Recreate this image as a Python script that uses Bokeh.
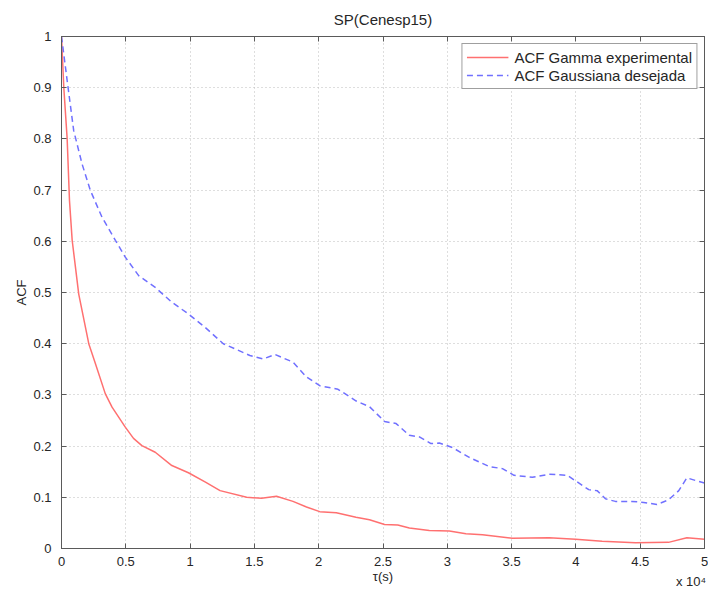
from bokeh.plotting import figure
from bokeh.models import (Range1d, FixedTicker, LinearAxis, Legend, LegendItem, Div,
                          CustomLabelingPolicy)
from bokeh.layouts import column
from bokeh.embed import file_html
from bokeh.resources import INLINE

# ---- data (x in units of 10^4 s) ----
gamma_x = [0, 0.018, 0.044, 0.062, 0.083, 0.134, 0.212, 0.264, 0.341, 0.393, 0.496, 0.56,
           0.625, 0.729, 0.858, 0.987, 1.116, 1.233, 1.44, 1.555, 1.672, 1.80, 1.905, 2.008,
           2.137, 2.29, 2.395, 2.512, 2.615, 2.705, 2.86, 3.016, 3.145, 3.274, 3.506, 3.791,
           3.998, 4.204, 4.463, 4.72, 4.863, 5.0]
gamma_y = [1.0, 0.90, 0.80, 0.68, 0.602, 0.497, 0.40, 0.361, 0.302, 0.276, 0.237, 0.215,
           0.201, 0.188, 0.162, 0.148, 0.130, 0.113, 0.100, 0.098, 0.102, 0.092, 0.081, 0.072,
           0.070, 0.061, 0.056, 0.047, 0.046, 0.040, 0.035, 0.034, 0.029, 0.027, 0.020, 0.021,
           0.018, 0.014, 0.011, 0.012, 0.021, 0.018]

gauss_x = [0, 0.044, 0.095, 0.16, 0.225, 0.315, 0.419, 0.496, 0.6, 0.729, 0.858, 0.987,
           1.116, 1.258, 1.465, 1.568, 1.659, 1.80, 1.905, 2.008, 2.15, 2.292, 2.395, 2.512,
           2.602, 2.705, 2.783, 2.873, 2.938, 3.041, 3.171, 3.326, 3.429, 3.519, 3.661, 3.791,
           3.933, 4.01, 4.10, 4.165, 4.23, 4.307, 4.436, 4.527, 4.63, 4.72, 4.80, 4.863,
           4.928, 5.0]
gauss_y = [1.0, 0.914, 0.816, 0.751, 0.699, 0.647, 0.602, 0.569, 0.533, 0.510, 0.481, 0.458,
           0.432, 0.400, 0.377, 0.370, 0.379, 0.364, 0.335, 0.318, 0.311, 0.288, 0.277, 0.248,
           0.244, 0.221, 0.218, 0.205, 0.206, 0.197, 0.178, 0.160, 0.156, 0.143, 0.139, 0.145,
           0.143, 0.130, 0.115, 0.113, 0.097, 0.092, 0.092, 0.090, 0.086, 0.095, 0.113, 0.138,
           0.133, 0.128]

x_ticks = [0, 0.5, 1, 1.5, 2, 2.5, 3, 3.5, 4, 4.5, 5]
x_tick_labels = ["0", "0.5", "1", "1.5", "2", "2.5", "3", "3.5", "4", "4.5", "5"]
y_ticks = [0, 0.1, 0.2, 0.3, 0.4, 0.5, 0.6, 0.7, 0.8, 0.9, 1]
y_tick_labels = ["0", "0.1", "0.2", "0.3", "0.4", "0.5", "0.6", "0.7", "0.8", "0.9", "1"]

title_text = "SP(Cenesp15)"
legend_labels = ["ACF Gamma experimental", "ACF Gaussiana desejada"]
x_label = "τ(s)"
y_label = "ACF"
x_multiplier = "x 10⁴"

FONT = "Liberation Sans"
TXT = "#262626"
AXC = "#5a5a5a"

p = figure(width=708, height=591, output_backend="svg", toolbar_location=None,
           x_range=Range1d(0, 5), y_range=Range1d(0, 1),
           min_border_left=61, min_border_right=2, min_border_top=36, min_border_bottom=43,
           background_fill_color="white", border_fill_color="white")

p.title.text = title_text
p.title.align = "center"
p.title.text_font = FONT
p.title.text_font_size = "15px"
p.title.text_font_style = "normal"
p.title.text_color = TXT
p.title.standoff = 9

p.outline_line_color = AXC
p.outline_line_width = 1

# grids
for g in (p.xgrid, p.ygrid):
    g.grid_line_color = "#bdbdbd"
    g.grid_line_dash = "1 3"
    g.grid_line_width = 1
p.xgrid.ticker = FixedTicker(ticks=x_ticks)
p.ygrid.ticker = FixedTicker(ticks=y_ticks)

# axes
xa = p.xaxis[0]
xa.ticker = FixedTicker(ticks=x_ticks)
xa.major_label_overrides = {t: l for t, l in zip(x_ticks, x_tick_labels)}
xa.axis_label = x_label
ya = p.yaxis[0]
ya.ticker = FixedTicker(ticks=y_ticks)
ya.major_label_overrides = {t: l for t, l in zip(y_ticks, y_tick_labels)}
ya.axis_label = y_label

for ax in (xa, ya):
    ax.axis_line_color = AXC
    ax.major_tick_line_color = AXC
    ax.major_tick_in = 5
    ax.major_tick_out = 0
    ax.minor_tick_line_color = None
    ax.major_label_text_font = FONT
    ax.major_label_text_font_size = "13px"
    ax.major_label_text_color = TXT
    ax.axis_label_text_font = FONT
    ax.axis_label_text_font_size = "13px"
    ax.axis_label_text_font_style = "normal"
    ax.axis_label_text_color = TXT
xa.major_label_standoff = 8
xa.axis_label_standoff = 0
ya.major_label_standoff = 10
ya.axis_label_standoff = 1

# box ticks on top and right (no labels drawn)
no_labels = CustomLabelingPolicy(code="return new Set()")
for loc, tk in (("above", x_ticks), ("right", y_ticks)):
    ax = LinearAxis(ticker=FixedTicker(ticks=tk))
    ax.major_label_policy = no_labels
    ax.major_label_text_font_size = "1px"
    ax.major_label_standoff = 0
    ax.axis_line_color = AXC
    ax.major_tick_line_color = AXC
    ax.major_tick_in = 5
    ax.major_tick_out = 0
    ax.minor_tick_line_color = None
    p.add_layout(ax, loc)

r1 = p.line(gamma_x, gamma_y, line_color="#ff7070", line_width=1.5)
r2 = p.line(gauss_x, gauss_y, line_color="#7070ff", line_width=1.5, line_dash="6 4")

legend = Legend(items=[LegendItem(label=legend_labels[0], renderers=[r1]),
                       LegendItem(label=legend_labels[1], renderers=[r2])],
                location="top_right", margin=7, padding=4, spacing=0,
                glyph_width=42, glyph_height=18, label_height=18, label_standoff=6,
                label_text_font=FONT, label_text_font_size="15px", label_text_color=TXT,
                border_line_color="#404040", border_line_width=1,
                background_fill_color="white", background_fill_alpha=1)
p.add_layout(legend)

# exponent note under the right end of the x axis (overlaps the figure's bottom border)
mult = Div(text=x_multiplier, width=40, height=16, margin=(-17, 0, 0, 676),
           styles={"font-family": FONT, "font-size": "13px", "color": TXT,
                   "line-height": "16px"})

layout = column(p, mult, spacing=0)

open("out.html", "w").write(file_html(layout, INLINE))
